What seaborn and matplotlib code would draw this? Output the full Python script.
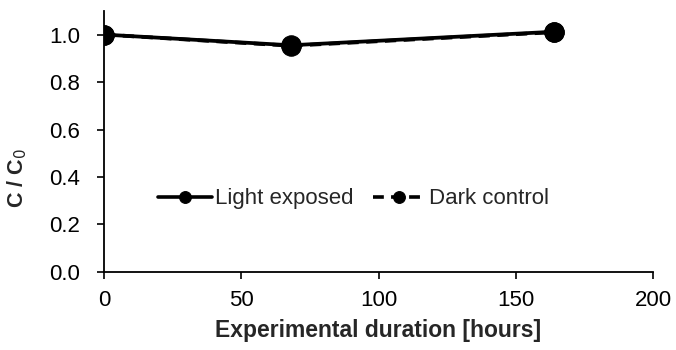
import matplotlib
matplotlib.use("Agg")
import matplotlib.pyplot as plt
import seaborn as sns
import pandas as pd

hours = [0, 68, 164]
light_exposed = [1.00, 0.955, 1.012]
dark_control = [1.00, 0.953, 1.010]
series_names = ["Light exposed", "Dark control"]

df = pd.DataFrame({
    "hours": hours * 2,
    "ratio": light_exposed + dark_control,
    "series": [series_names[0]] * len(hours) + [series_names[1]] * len(hours),
})

sns.set_theme(style="ticks")
plt.rcParams["font.family"] = ["Liberation Sans", "DejaVu Sans"]

fig = plt.figure(figsize=(6.76, 3.5), dpi=100)
ax = fig.add_axes([0.154, 0.223, 0.812, 0.746])

sns.lineplot(
    data=df, x="hours", y="ratio", hue="series", style="series",
    palette=["black", "black"], dashes=[(None, None), (3, 2)],
    markers=["o", "o"], markersize=14, markeredgecolor="black",
    linewidth=2.7, ax=ax, legend=True,
)

ax.set_xlim(0, 200)
ax.set_ylim(0, 1.1)
ax.set_xticks([0, 50, 100, 150, 200])
ax.set_yticks([0.0, 0.2, 0.4, 0.6, 0.8, 1.0])
ax.set_yticklabels([f"{v:.1f}" for v in [0.0, 0.2, 0.4, 0.6, 0.8, 1.0]])
ax.tick_params(axis="both", labelsize=16, direction="out", length=5, width=1.2,
               colors="black")
ax.tick_params(axis="y", pad=12)
ax.tick_params(axis="x", pad=8)
for s in ["top", "right"]:
    ax.spines[s].set_visible(False)
for s in ["left", "bottom"]:
    ax.spines[s].set_linewidth(1.3)
    ax.spines[s].set_color("black")

ax.set_xlabel("Experimental duration [hours]", fontsize=16.5, fontweight="bold", labelpad=6)
ax.set_ylabel("C / C$_0$", fontsize=15.5, fontweight="bold")
ax.yaxis.set_label_coords(-0.136, 0.36)

leg = ax.legend(
    loc="center", bbox_to_anchor=(0.455, 0.28), ncol=2, frameon=False,
    fontsize=16, handlelength=2.4, handletextpad=0.15, columnspacing=0.85,
)
for h in leg.legend_handles:
    h.set_markersize(8.5)
    h.set_linewidth(2.6)

fig.savefig("out.png", dpi=100, facecolor="white")
